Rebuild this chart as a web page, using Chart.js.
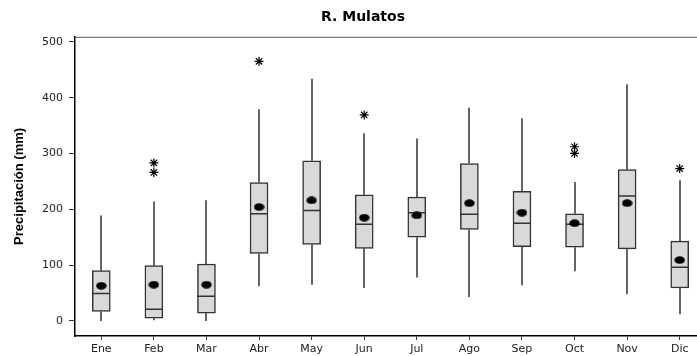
<!DOCTYPE html>
<html>
<head>
<meta charset="utf-8">
<script src="https://cdn.jsdelivr.net/npm/chart.js@4.4.1/dist/chart.umd.min.js"></script>
<style>
  html, body { margin: 0; padding: 0; overflow: hidden; background: #fff; }
</style>
</head>
<body>
<canvas id="myChart" width="726" height="356"></canvas>
<script>
// Monthly precipitation (mm), box plot statistics
const months = ['Ene', 'Feb', 'Mar', 'Abr', 'May', 'Jun', 'Jul', 'Ago', 'Sep', 'Oct', 'Nov', 'Dic'];
const whiskerLow = [0, 1, 0, 62, 65, 59, 78, 43, 64, 89, 48, 12];
const q1 = [17, 5, 14, 121, 137, 130, 150, 164, 133, 132, 129, 59];
const median = [49, 21, 44, 192, 198, 173, 194, 191, 175, 173, 224, 96];
const q3 = [90, 99, 102, 248, 287, 226, 222, 282, 232, 192, 271, 143];
const whiskerHigh = [189, 214, 216, 379, 434, 336, 327, 382, 363, 249, 424, 252];
const means = [63, 65, 65, 204, 216, 185, 189, 211, 194, 175, 211, 109];
const outlierMonths = ['Feb', 'Feb', 'Abr', 'Jun', 'Oct', 'Oct', 'Dic'];
const outlierValues = [283, 266, 465, 369, 312, 300, 273];
const yTicks = [0, 100, 200, 300, 400, 500];

const LINE = '#333333';

// filled ellipse used as the mean marker
function meanMarker() {
  const c = document.createElement('canvas');
  c.width = 11;
  c.height = 8;
  const g = c.getContext('2d');
  g.fillStyle = '#000';
  g.beginPath();
  g.ellipse(5.5, 4, 5.2, 3.8, 0, 0, Math.PI * 2);
  g.fill();
  return c;
}

// whiskers and median lines, drawn right after the boxes
const whiskerPlugin = {
  id: 'whiskers',
  afterDatasetDraw(chart, args) {
    if (args.index !== 0) return;
    const ctx = chart.ctx;
    const x = chart.scales.x;
    const y = chart.scales.y;
    const half = 9;
    ctx.save();
    ctx.strokeStyle = LINE;
    ctx.lineWidth = 1.5;
    months.forEach((m, i) => {
      const cx = Math.round(x.getPixelForValue(i));
      ctx.beginPath();
      ctx.moveTo(cx, y.getPixelForValue(q3[i]));
      ctx.lineTo(cx, y.getPixelForValue(whiskerHigh[i]));
      ctx.moveTo(cx, y.getPixelForValue(q1[i]));
      ctx.lineTo(cx, y.getPixelForValue(whiskerLow[i]));
      ctx.moveTo(cx - half, y.getPixelForValue(median[i]));
      ctx.lineTo(cx + half, y.getPixelForValue(median[i]));
      ctx.stroke();
    });
    ctx.restore();
  }
};

// frame around the plot area
const framePlugin = {
  id: 'frame',
  afterDraw(chart) {
    const {ctx, chartArea: a} = chart;
    ctx.save();
    ctx.strokeStyle = '#555';
    ctx.lineWidth = 1;
    ctx.beginPath();
    ctx.moveTo(a.left, a.top + 0.5);
    ctx.lineTo(a.right, a.top + 0.5);
    ctx.lineTo(a.right, a.bottom);
    ctx.stroke();
    ctx.restore();
  }
};

const tickFont = { family: 'DejaVu Sans', size: 11 };

const ctx = document.getElementById('myChart').getContext('2d');
const myChart = new Chart(ctx, {
  type: 'bar',
  data: {
    labels: months,
    datasets: [
      {
        data: months.map((m, i) => [q1[i], q3[i]]),
        backgroundColor: '#d9d9d9',
        borderColor: LINE,
        borderWidth: 1.5,
        borderSkipped: false,
        barThickness: 18,
        order: 3,
      },
      {
        type: 'line',
        data: means,
        showLine: false,
        pointStyle: meanMarker(),
        order: 1,
      },
      {
        type: 'line',
        data: outlierMonths.map((m, i) => ({x: m, y: outlierValues[i]})),
        showLine: false,
        pointStyle: 'star',
        radius: 4.5,
        borderColor: '#000',
        borderWidth: 1.2,
        order: 2,
      },
    ],
  },
  options: {
    responsive: false,
    animation: false,
    layout: { padding: { left: 20, right: 20, top: 0, bottom: 0 } },
    plugins: {
      legend: { display: false },
      tooltip: { enabled: false },
      title: {
        display: true,
        text: 'R. Mulatos',
        color: '#000',
        font: { family: 'DejaVu Sans', size: 14, weight: 'bold' },
        padding: { top: 9, bottom: 11 },
      },
    },
    scales: {
      x: {
        offset: true,
        afterFit: s => { s.height = 20; },
        grid: { display: true, drawOnChartArea: false, drawTicks: true, tickLength: 4, color: LINE, offset: false },
        border: { display: true, color: '#000', width: 1.5 },
        ticks: { color: '#222', padding: 3, font: tickFont },
      },
      y: {
        min: -27,
        max: 509,
        afterFit: s => { s.width = 55; },
        afterBuildTicks: s => { s.ticks = yTicks.map(v => ({value: v})); },
        grid: { display: true, drawOnChartArea: false, drawTicks: true, tickLength: 6, color: LINE },
        border: { display: true, color: '#000', width: 1.5 },
        ticks: { color: '#222', padding: 6, font: tickFont },
        title: {
          display: true,
          text: 'Precipitación (mm)',
          color: '#000',
          font: { family: 'Liberation Sans', size: 13, weight: 'bold' },
          padding: { top: -8, bottom: 0 },
        },
      },
    },
  },
  plugins: [whiskerPlugin, framePlugin],
});
</script>
</body>
</html>
